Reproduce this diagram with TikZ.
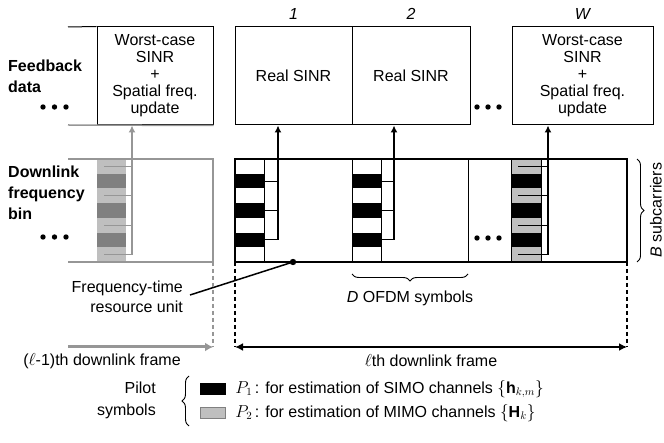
\documentclass[tikz,border=0pt]{standalone}
\usepackage{fontspec}
\setmainfont{Liberation Sans}
\usetikzlibrary{arrows.meta,decorations.pathreplacing,positioning}

\definecolor{lineGray}{RGB}{150,150,150}
\definecolor{pilotGray}{RGB}{191,191,191}
\definecolor{darkPilot}{RGB}{128,128,128}

\begin{document}
\begin{tikzpicture}
[x=1pt,y=-1pt,
 fbBox/.style={shape=rectangle,draw,line width=1pt,minimum height=98pt,inner sep=0pt,align=center,font=\fontsize{16}{17}\selectfont},
 rowLabel/.style={anchor=west,align=left,inner sep=0pt,font=\fontsize{16}{21}\selectfont\bfseries},
 plainText/.style={inner sep=0pt,font=\fontsize{16}{20}\selectfont},
 gridLine/.style={line width=0.9pt},
 frameLine/.style={line width=2.5pt},
 oldLine/.style={draw=lineGray,line width=2pt},
 upArrow/.style={line width=2pt,-{Latex[length=7pt,width=7pt]}},
 keyBox/.style={shape=rectangle,minimum width=25pt,minimum height=11pt,inner sep=0pt}]
\useasboundingbox (0,0) rectangle (664,443);
\pgfmathsetmacro{\rowh}{103/7}

%% feedback data row
\node (fb0) at (155,76) [fbBox,minimum width=116pt] {Worst-case\\SINR\\+\\Spatial freq.\\update};
\node (fb1) at (293.5,76) [fbBox,minimum width=117pt] {Real SINR};
\node (fb2) at (411,76) [fbBox,minimum width=118pt] {Real SINR};
\node (fbW) at (582.5,76) [fbBox,minimum width=141pt] {Worst-case\\SINR\\+\\Spatial freq.\\update};
\draw[line width=1pt] (68,27) -- (fb0.north west);
\draw[oldLine,line width=1.5pt] (68,125) -- (fb0.south east);
\foreach \name/\num in {fb1/1, fb2/2, fbW/W}
{
  \node (lbl\name) [above=7pt of \name,plainText] {\itshape\num};
}
\node (fbLabel) at (8,76) [rowLabel] {Feedback\\data};
\node (dlLabel) at (8,193) [rowLabel] {Downlink\\frequency\\bin};
\foreach \x/\y in {43/107, 54.5/107, 66/107, 43/237, 54.5/237, 66/237,
  477/107, 488/107, 499/107, 477/238, 488/238, 499/238}
{
  \fill (\x,\y) circle (2.7pt);
}

%% (l-1)th frame, faded
\foreach \r/\c in {0/pilotGray, 1/darkPilot, 2/pilotGray, 3/darkPilot, 4/pilotGray, 5/darkPilot, 6/pilotGray}
{
  \fill[\c] (97,{159+\r*\rowh}) rectangle (126,{159+(\r+1)*\rowh});
}
\foreach \r in {0,2,4,6}
{
  \draw[lineGray,line width=1pt] (104,{159+(\r+0.5)*\rowh}) -- (132,{159+(\r+0.5)*\rowh});
}
\draw[oldLine] (68,159) -- (213,159) -- (213,262) -- (68,262);
\coordinate (a0) at (132,{159+6.5*\rowh});
\draw[upArrow,lineGray] (a0) -- (a0 |- fb0.south);

%% l-th frame
\foreach \xl in {235,352}
{
  \foreach \r in {1,3,5}
    \fill (\xl,{159+\r*\rowh}) rectangle (\xl+29,{159+(\r+1)*\rowh});
}
\foreach \r/\c in {0/pilotGray, 1/black, 2/pilotGray, 3/black, 4/pilotGray, 5/black, 6/pilotGray}
{
  \fill[\c] (511,{159+\r*\rowh}) rectangle (541,{159+(\r+1)*\rowh});
}
\foreach \x in {264,352,381,468,511,541}
{
  \draw[gridLine] (\x,159) -- (\x,262);
}
\foreach \xl/\xa/\name in {264/278/fb1, 381/394/fb2}
{
  \foreach \r in {1,3,5}
    \draw[gridLine] (\xl,{159+(\r+0.5)*\rowh}) -- (\xa,{159+(\r+0.5)*\rowh});
  \coordinate (a\name) at (\xa,{159+5.5*\rowh});
  \draw[upArrow] (a\name) -- (a\name |- \name.south);
}
\foreach \r in {0,2,4,6}
{
  \draw[gridLine] (518,{159+(\r+0.5)*\rowh}) -- (548,{159+(\r+0.5)*\rowh});
}
\coordinate (afbW) at (548,{159+6.5*\rowh});
\draw[upArrow] (afbW) -- (afbW |- fbW.south);
\draw[frameLine] (235,159) rectangle (627,262);

%% resource unit
\coordinate (ruDot) at (293,262);
\fill (ruDot) circle (3.2pt);
\node (ruLabel) at (183,297) [plainText,anchor=east,align=right] {Frequency-time\\resource unit};
\draw[line width=1.5pt] ([xshift=7pt,yshift=2pt]ruLabel.east) -- (ruDot);

%% braces
\draw[decorate,decoration={brace,amplitude=7pt,mirror},line width=0.9pt] (352,274) -- (468,274);
\node (dLabel) at (410,298) [plainText] {\textit{D} OFDM symbols};
\draw[decorate,decoration={brace,amplitude=7pt},line width=0.9pt] (637,159) -- (637,262);
\node (bLabel) at (656,210) [plainText,rotate=90] {\textit{B} subcarriers};

%% frame lengths
\coordinate (oldTop) at (213,262);
\coordinate (oldEnd) at (213,347);
\coordinate (oldStart) at (68,347);
\coordinate (lTop) at (235,262);
\coordinate (lStart) at (235,347);
\coordinate (rTop) at (627,262);
\coordinate (lEnd) at (627,347);
\draw[lineGray,line width=1.3pt,dash pattern=on 4pt off 3pt] (oldTop) -- (oldEnd);
\draw[line width=1.5pt,dash pattern=on 4pt off 3pt] (lTop) -- (lStart);
\draw[line width=1.5pt,dash pattern=on 4pt off 3pt] (rTop) -- (lEnd);
\draw[lineGray,line width=3pt,-{Latex[length=8pt,width=9pt]}] (oldStart) -- (oldEnd);
\draw[line width=2pt,{Latex[length=8pt,width=8pt]}-{Latex[length=8pt,width=8pt]}] (lStart) -- (lEnd);
\node (oldLabel) at (102,361) [plainText] {($\ell$-1)th downlink frame};
\node (frameLabel) at (431,361) [plainText] {$\ell$th downlink frame};

%% legend
\node (pilotLabel) at (156,400) [plainText,anchor=east,align=right,font=\fontsize{16}{22}\selectfont] {Pilot\\symbols};
\draw[decorate,decoration={brace,amplitude=7pt},line width=0.9pt] (189,426) -- (189,376);
\node (key1) at (212.5,389) [keyBox,draw,fill=black] {};
\node (key2) at (212.5,413) [keyBox,draw=darkPilot,fill=pilotGray] {};
\node (txt1) [right=10pt of key1,plainText] {$P_1$\,: for estimation of SIMO channels $\bigl\{\mathbf{h}_{k,m}\bigr\}$};
\node (txt2) [right=10pt of key2,plainText] {$P_2$\,: for estimation of MIMO channels $\bigl\{\mathbf{H}_{k}\bigr\}$};
\end{tikzpicture}
\end{document}
